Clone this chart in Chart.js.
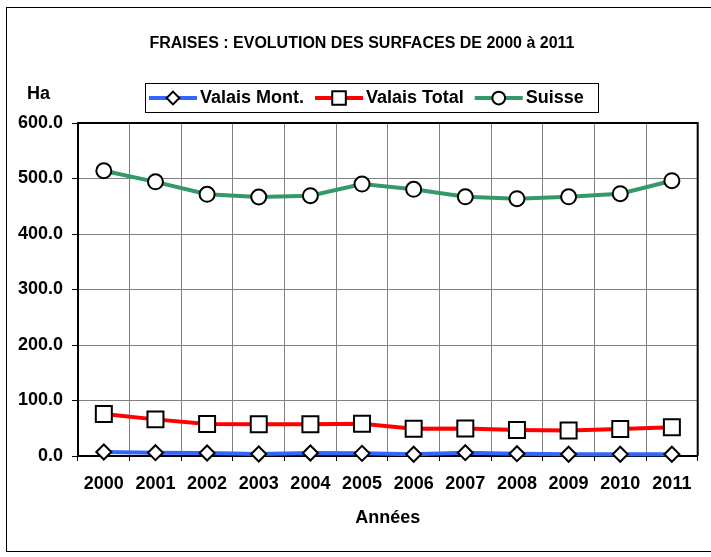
<!DOCTYPE html>
<html><head><meta charset="utf-8">
<script src="https://cdn.jsdelivr.net/npm/chart.js@4"></script>
<style>html,body{margin:0;padding:0;background:#fff;}</style>
</head><body>
<canvas id="c" width="711" height="557" style="display:block;width:711px;height:557px"></canvas>
<script>
const years = ['2000','2001','2002','2003','2004','2005','2006','2007','2008','2009','2010','2011'];
const valaisMont = [7.2, 6.0, 5.4, 3.6, 5.4, 4.8, 3.1, 6.0, 4.2, 3.1, 3.1, 3.1];
const valaisTotal = [75.6, 66, 57.6, 57, 57, 58, 49, 49.5, 46.8, 46, 48.6, 52];
const suisse = [514, 494, 471.5, 466.7, 469, 490, 480.5, 467, 463.6, 467, 472.6, 496];
const seriesNames = ['Valais Mont.', 'Valais Total', 'Suisse'];
const titleText = 'FRAISES : EVOLUTION DES SURFACES DE 2000 à 2011';
const yUnit = 'Ha';
const xTitle = 'Années';

const FONT = '"Liberation Sans", Arial, sans-serif';
const colors = ['#3366FF', '#FF0000', '#339966'];
const styles = ['rectRot', 'rect', 'circle'];
const radii = [7.5, 11.3, 7.5];

function drawMarker(ctx, style, x, y, r) {
  ctx.save();
  ctx.fillStyle = '#fff';
  ctx.strokeStyle = '#000';
  ctx.lineWidth = 2;
  ctx.beginPath();
  if (style === 'circle') {
    ctx.arc(x, y, r, 0, Math.PI * 2);
  } else if (style === 'rect') {
    const s = Math.SQRT1_2 * r;
    ctx.rect(x - s, y - s, 2 * s, 2 * s);
  } else {
    ctx.moveTo(x, y - r); ctx.lineTo(x + r, y); ctx.lineTo(x, y + r); ctx.lineTo(x - r, y); ctx.closePath();
  }
  ctx.fill(); ctx.stroke();
  ctx.restore();
}

const decorPlugin = {
  id: 'decor',
  beforeDraw(chart) {
    const ctx = chart.ctx;
    ctx.save();
    ctx.fillStyle = '#fff';
    ctx.fillRect(0, 0, chart.width, chart.height);
    // outer frame
    ctx.strokeStyle = '#000';
    ctx.lineWidth = 1;
    ctx.strokeRect(6.5, 7.5, 720, 544);
    // title
    ctx.fillStyle = '#000';
    ctx.font = 'bold 16px ' + FONT;
    ctx.textAlign = 'center';
    ctx.textBaseline = 'middle';
    ctx.fillText(titleText, 362, 44);
    // unit
    ctx.font = 'bold 18px ' + FONT;
    ctx.textAlign = 'left';
    ctx.fillText(yUnit, 27, 94);
    // legend
    ctx.strokeRect(145.5, 83.5, 453, 29);
    let x = 149;
    const ly = 98;
    chart.data.datasets.forEach((ds, i) => {
      ctx.strokeStyle = colors[i];
      ctx.lineWidth = 4;
      ctx.beginPath(); ctx.moveTo(x, ly); ctx.lineTo(x + 48, ly); ctx.stroke();
      drawMarker(ctx, styles[i], x + 24, ly, radii[i] * 0.85);
      ctx.fillStyle = '#000';
      ctx.font = 'bold 18px ' + FONT;
      ctx.textAlign = 'left';
      ctx.textBaseline = 'middle';
      ctx.fillText(ds.label, x + 51, ly);
      x = x + 51 + ctx.measureText(ds.label).width + 11;
    });
    ctx.restore();
  },
  beforeDatasetsDraw(chart) {
    const {ctx, chartArea: a} = chart;
    ctx.save();
    ctx.strokeStyle = '#000';
    ctx.lineWidth = 2;
    ctx.beginPath();
    ctx.moveTo(a.left, a.top); ctx.lineTo(a.right, a.top); ctx.lineTo(a.right, a.bottom);
    ctx.stroke();
    ctx.restore();
  }
};

const mk = (i, data) => ({
  label: seriesNames[i],
  data: data,
  borderColor: colors[i],
  backgroundColor: colors[i],
  borderWidth: 4,
  tension: 0,
  pointStyle: styles[i],
  pointRadius: radii[i],
  pointHoverRadius: radii[i],
  pointBackgroundColor: '#fff',
  pointBorderColor: '#000',
  pointBorderWidth: 2,
  clip: false
});

new Chart(document.getElementById('c'), {
  type: 'line',
  data: {
    labels: years,
    datasets: [mk(0, valaisMont), mk(1, valaisTotal), mk(2, suisse)]
  },
  options: {
    responsive: false,
    animation: false,
    devicePixelRatio: 1,
    layout: { padding: { left: 0, top: 123, right: 1, bottom: 28.5 } },
    plugins: { legend: { display: false }, title: { display: false }, tooltip: { enabled: false } },
    scales: {
      x: {
        type: 'category',
        offset: true,
        grid: { offset: true, color: '#808080', lineWidth: 1, tickLength: 5, tickColor: '#000', drawTicks: true },
        border: { color: '#000', width: 2 },
        ticks: { color: '#000', font: { family: FONT, size: 18, weight: 'bold' }, padding: 12, maxRotation: 0, autoSkip: false },
        title: { display: true, text: xTitle, color: '#000', font: { family: FONT, size: 18, weight: 'bold' }, padding: { top: 0, bottom: 0 } },
        afterFit: s => { s.height = 72.5; }
      },
      y: {
        min: 0, max: 600,
        grid: { color: '#808080', lineWidth: 1, tickLength: 6, tickColor: '#000' },
        border: { color: '#000', width: 2 },
        ticks: { stepSize: 100, color: '#000', padding: 9, font: { family: FONT, size: 18, weight: 'bold' }, callback: v => Number(v).toFixed(1) },
        afterFit: s => { s.width = 78; }
      }
    }
  },
  plugins: [decorPlugin]
});
</script>
</body></html>
